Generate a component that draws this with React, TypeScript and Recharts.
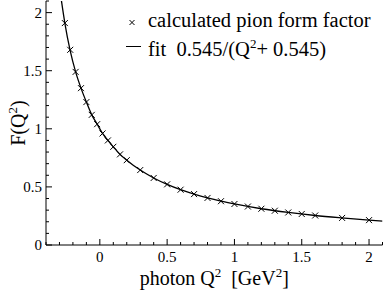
import React from 'react'
import { ComposedChart, Line, Scatter, XAxis, YAxis } from 'recharts'

document.body.style.margin = '0'

// calculated points (Q^2 in GeV^2, F)
const pointQ = [-0.26, -0.22, -0.18, -0.14, -0.10, -0.06, -0.02, 0.02, 0.06, 0.10, 0.15, 0.2, 0.3, 0.4, 0.5, 0.6, 0.7, 0.8, 0.9, 1.0, 1.1, 1.2, 1.3, 1.4, 1.5, 1.6, 1.8, 2.0]
const pointF = [1.91, 1.68, 1.49, 1.35, 1.23, 1.12, 1.04, 0.96, 0.90, 0.845, 0.78, 0.73, 0.645, 0.577, 0.522, 0.476, 0.438, 0.405, 0.377, 0.353, 0.331, 0.312, 0.295, 0.28, 0.267, 0.254, 0.233, 0.214]

// fit curve
const fitQ = [-0.285, -0.26, -0.22, -0.18, -0.14, -0.10, -0.06, -0.02, 0.02, 0.06, 0.10, 0.15, 0.2, 0.3, 0.4, 0.5, 0.6, 0.7, 0.8, 0.9, 1.0, 1.2, 1.4, 1.6, 1.8, 2.0, 2.1]
const fitF = [2.10, 1.91, 1.67, 1.49, 1.35, 1.23, 1.12, 1.04, 0.96, 0.90, 0.845, 0.78, 0.73, 0.645, 0.577, 0.522, 0.476, 0.438, 0.405, 0.377, 0.353, 0.312, 0.28, 0.254, 0.233, 0.214, 0.206]

const xTicks = [-0.4, -0.3, -0.2, -0.1, 0, 0.1, 0.2, 0.3, 0.4, 0.5, 0.6, 0.7, 0.8, 0.9, 1, 1.1, 1.2, 1.3, 1.4, 1.5, 1.6, 1.7, 1.8, 1.9, 2, 2.1]
const yTicks = [0, 0.1, 0.2, 0.3, 0.4, 0.5, 0.6, 0.7, 0.8, 0.9, 1, 1.1, 1.2, 1.3, 1.4, 1.5, 1.6, 1.7, 1.8, 1.9, 2, 2.1]

const legendNames = ['calculated pion form factor', 'fit  0.545/(Q', '+ 0.545)']

const points = pointQ.map((q, i) => ({ q, f: pointF[i] }))
const fit = fitQ.map((q, i) => ({ q, f: fitF[i] }))

const FONT = "'Liberation Serif', 'Times New Roman', serif"
const isMajor = (v: number) => Math.abs(v * 2 - Math.round(v * 2)) < 1e-6
const tickLen = (v: number) => (isMajor(v) ? 6 : 3)

const BottomTick = ({ x, y, payload }: any) => (
  <g>
    <line x1={x} y1={y} x2={x} y2={y - tickLen(payload.value)} stroke="#000" />
    {isMajor(payload.value) && (
      <text x={x} y={y + 17} textAnchor="middle" fontSize={15} fontFamily={FONT} fill="#000">
        {String(payload.value)}
      </text>
    )}
  </g>
)

const TopTick = ({ x, y, payload }: any) => (
  <line x1={x} y1={y} x2={x} y2={y + tickLen(payload.value)} stroke="#000" />
)

const LeftTick = ({ x, y, payload }: any) => (
  <g>
    <line x1={x} y1={y} x2={x + tickLen(payload.value)} y2={y} stroke="#000" />
    {isMajor(payload.value) && (
      <text x={x - 4} y={y + 5} textAnchor="end" fontSize={15} fontFamily={FONT} fill="#000">
        {String(payload.value)}
      </text>
    )}
  </g>
)

const RightTick = ({ x, y, payload }: any) => (
  <line x1={x} y1={y} x2={x - tickLen(payload.value)} y2={y} stroke="#000" />
)

const Cross = ({ cx, cy }: any) => (
  <g stroke="#000" strokeWidth={1}>
    <line x1={cx - 3} y1={cy - 3} x2={cx + 3} y2={cy + 3} />
    <line x1={cx - 3} y1={cy + 3} x2={cx + 3} y2={cy - 3} />
  </g>
)

const xLabel = ({ viewBox }: any) => (
  <text
    x={viewBox.x + viewBox.width / 2}
    y={viewBox.y + 40}
    textAnchor="middle"
    fontSize={20}
    fontFamily={FONT}
    fill="#000"
    style={{ whiteSpace: 'pre' }}
  >
    photon Q<tspan dy={-8} fontSize={13}>2</tspan>
    <tspan dy={8}>  [GeV</tspan>
    <tspan dy={-8} fontSize={13}>2</tspan>
    <tspan dy={8}>]</tspan>
  </text>
)

const yLabel = ({ viewBox }: any) => {
  const cx = 25
  const cy = viewBox.y + viewBox.height / 2
  return (
    <text
      x={cx}
      y={cy}
      transform={`rotate(-90 ${cx} ${cy})`}
      textAnchor="middle"
      fontSize={20}
      fontFamily={FONT}
      fill="#000"
    >
      F(Q<tspan dy={-8} fontSize={13}>2</tspan>
      <tspan dy={8}>)</tspan>
    </text>
  )
}

// legend drawn straight into the chart svg
const LegendBox = () => (
  <g className="legend">
    <g stroke="#000" strokeWidth={1}>
      <line x1={129.5} y1={20} x2={134.5} y2={25} />
      <line x1={129.5} y1={25} x2={134.5} y2={20} />
      <line x1={126} y1={46.5} x2={141} y2={46.5} />
    </g>
    <text x={148} y={27} fontSize={20.5} fontFamily={FONT} fill="#000">
      {legendNames[0]}
    </text>
    <text x={148} y={56} fontSize={20.5} fontFamily={FONT} fill="#000" style={{ whiteSpace: 'pre' }}>
      {legendNames[1]}
      <tspan dy={-8} fontSize={13}>2</tspan>
      <tspan dy={8}>{legendNames[2]}</tspan>
    </text>
  </g>
)

export default function App() {
  return (
    <ComposedChart width={383} height={291} margin={{ top: 1, right: 0.5, bottom: 0, left: 0 }}>
      <XAxis
        xAxisId="b"
        dataKey="q"
        type="number"
        domain={[-0.4, 2.1]}
        ticks={xTicks}
        interval={0}
        allowDataOverflow
        height={46}
        tickSize={0}
        tickMargin={0}
        tickLine={false}
        axisLine={{ stroke: '#000' }}
        tick={BottomTick}
        label={{ content: xLabel }}
      />
      <XAxis
        xAxisId="t"
        orientation="top"
        dataKey="q"
        type="number"
        domain={[-0.4, 2.1]}
        ticks={xTicks}
        interval={0}
        allowDataOverflow
        height={0}
        tickSize={0}
        tickMargin={0}
        tickLine={false}
        axisLine={{ stroke: '#000' }}
        tick={TopTick}
      />
      <YAxis
        yAxisId="l"
        type="number"
        domain={[0, 2.1]}
        ticks={yTicks}
        interval={0}
        allowDataOverflow
        width={46}
        tickSize={0}
        tickMargin={0}
        tickLine={false}
        axisLine={{ stroke: '#000' }}
        tick={LeftTick}
        label={{ content: yLabel }}
      />
      <YAxis
        yAxisId="r"
        orientation="right"
        type="number"
        domain={[0, 2.1]}
        ticks={yTicks}
        interval={0}
        allowDataOverflow
        width={0}
        tickSize={0}
        tickMargin={0}
        tickLine={false}
        axisLine={{ stroke: '#000' }}
        tick={RightTick}
      />
      <Line
        xAxisId="b"
        yAxisId="l"
        data={fit}
        dataKey="f"
        type="monotone"
        stroke="#000"
        strokeWidth={1.3}
        dot={false}
        isAnimationActive={false}
      />
      <Scatter
        xAxisId="b"
        yAxisId="l"
        data={points}
        dataKey="f"
        shape={Cross}
        isAnimationActive={false}
      />
      <LegendBox />
    </ComposedChart>
  )
}
